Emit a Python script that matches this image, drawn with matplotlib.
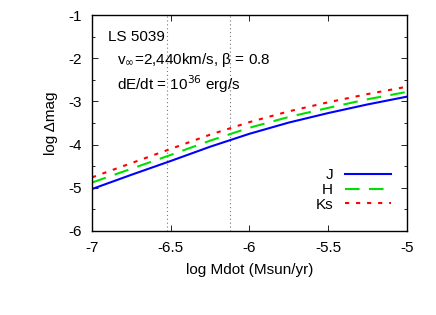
import matplotlib
matplotlib.use("Agg")
import matplotlib.pyplot as plt
from matplotlib.ticker import MultipleLocator

plt.rcParams['font.family'] = ['Liberation Sans', 'DejaVu Sans']

log_mdot = [-7.0, -6.75, -6.5, -6.25, -6.0, -5.75, -5.5, -5.25, -5.0]
J = [-5.03, -4.70, -4.38, -4.05, -3.75, -3.49, -3.27, -3.07, -2.89]
H = [-4.88, -4.56, -4.24, -3.91, -3.61, -3.36, -3.15, -2.95, -2.78]
Ks = [-4.76, -4.43, -4.10, -3.77, -3.48, -3.23, -3.02, -2.83, -2.66]
vlines = [-6.526, -6.126]

fig = plt.figure(figsize=(4.36, 3.15), dpi=100)
ax = fig.add_axes([0.211, 0.267, 0.722, 0.685])

for xv in vlines:
    ax.axvline(xv, color='#777777', lw=0.8, ls=(0, (1, 2.5)))

ax.plot(log_mdot, J, color='#0000ff', lw=1.5, label='J')
ax.plot(log_mdot, H, color='#00e000', lw=1.5, ls=(0, (7, 4.5)), label='H')
ax.plot(log_mdot, Ks, color='#ff0000', lw=1.5, ls=(0, (2, 3.3)), label='Ks')

ax.set_xlim(-7, -5)
ax.set_ylim(-6, -1)
ax.xaxis.set_major_locator(MultipleLocator(0.5))
ax.yaxis.set_major_locator(MultipleLocator(1))
ax.yaxis.set_minor_locator(MultipleLocator(0.5))
ax.xaxis.set_major_formatter(plt.FuncFormatter(lambda v, p: ('%g' % v)))
ax.yaxis.set_major_formatter(plt.FuncFormatter(lambda v, p: ('%g' % v)))
ax.tick_params(which='both', direction='in', top=True, right=True, labelsize=11, width=0.6)
ax.tick_params(which='major', length=4, pad=7)
ax.tick_params(which='minor', length=2.5)
for s in ax.spines.values():
    s.set_linewidth(1.0)

ax.set_xlabel('log Mdot (Msun/yr)', fontsize=11, labelpad=6)
ax.set_ylabel('log Δmag', fontsize=11, labelpad=8)

ax.text(0.05, 0.90, 'LS 5039', transform=ax.transAxes, fontsize=11, va='center', ha='left')
ax.text(0.08, 0.79, r'v$_{\infty}$=2,440km/s, $\mathregular{\beta}$ = 0.8', transform=ax.transAxes,
        fontsize=11, va='center', ha='left')
ax.text(0.08, 0.68, r'dE/dt = 10$^{36}$ erg/s', transform=ax.transAxes, fontsize=11, va='center', ha='left')

leg = ax.legend(loc='lower right', bbox_to_anchor=(0.97, 0.06), markerfirst=False, frameon=False,
                handlelength=3.0, labelspacing=0.05, fontsize=11, handletextpad=0.8, borderaxespad=0)

fig.savefig('out.png', dpi=100)
